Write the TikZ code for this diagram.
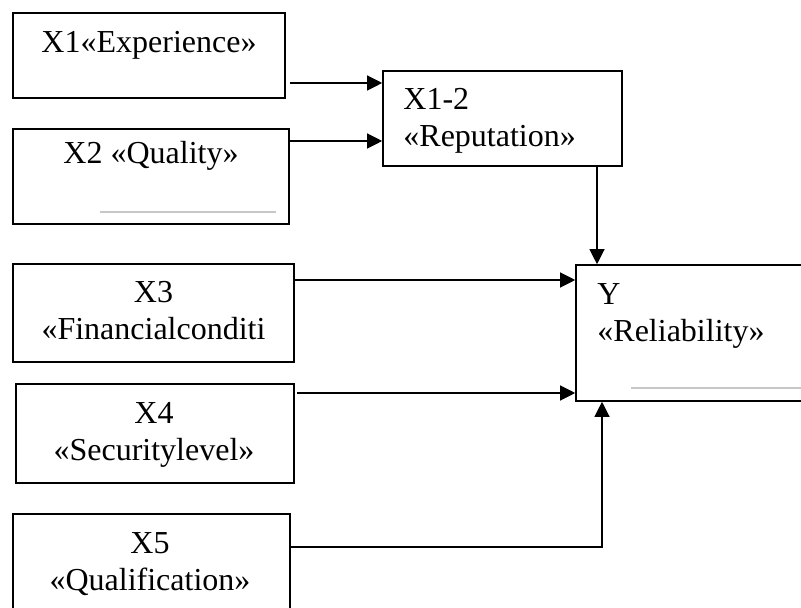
\documentclass[tikz,border=0pt]{standalone}
\usepackage{fontspec}
\setmainfont{Liberation Serif}
\usetikzlibrary{%
  arrows.meta,%
  calc%
}

\begin{document}
\begin{tikzpicture}[x=0.5pt,y=-0.5pt,
  box/.style={draw,line width=0.8pt,inner sep=0pt},
  lbl/.style={inner sep=0pt,font=\fontsize{16}{18.5}\selectfont,anchor=base},
  arr/.style={line width=0.6pt,-{Triangle[length=7.5pt,width=7.5pt]}},
  greyrule/.style={line width=1pt,color=black!22}]
\useasboundingbox (0,0) rectangle (801,608);
\clip (0,0) rectangle (801,608);

% boxes
\node[box,minimum width=136pt,minimum height=42.5pt] (x1) at (149,55.5) {};
\node[box,minimum width=138pt,minimum height=47.5pt] (x2) at (151,176.5) {};
\node[box,minimum width=119.5pt,minimum height=47.5pt] (x12) at (502.5,118.5) {};
\node[box,minimum width=140.5pt,minimum height=49pt] (x3) at (153.5,313) {};
\node[box,minimum width=139pt,minimum height=49.5pt] (x4) at (155,433.5) {};
\node[box,minimum width=138.5pt,minimum height=53pt] (x5) at (151.5,567) {};
\node[box,minimum width=117pt,minimum height=68pt] (y) at (693,333) {};

% texts (base = last line)
\node[lbl] (x1t) at (149,53) {X1«Experience»};
\node[lbl] (x2t) at (151,164) {X2 «Quality»};
\node[lbl,align=left,anchor=base west] (x12t) at (403,147) {X1-2\\«Reputation»};
\node[lbl,align=center] (x3t) at (153.5,340) {X3\\«Financialconditi};
\node[lbl,align=center] (x4t) at (154,460) {X4\\«Securitylevel»};
\node[lbl,align=center] (x5t) at (150,590) {X5\\«Qualification»};
\node[lbl,align=left,anchor=base west] (yt) at (597,342) {Y\\«Reliability»};

\draw[greyrule] (100,212) -- (276,212);
\draw[greyrule] (631,388) -- (801,388);

% connectors
\coordinate (s1) at (290,83);
\draw[arr] (s1) -- (s1 -| x12.west);
\coordinate (s2) at (289,141);
\draw[arr] (s2) -- (s2 -| x12.west);
\coordinate (d12) at (597,0);
\draw[arr] (x12.south -| d12) -- (y.north -| d12);
\coordinate (s3) at (295,280);
\draw[arr] (s3) -- (s3 -| y.west);
\coordinate (s4) at (297,393);
\draw[arr] (s4) -- (s4 -| y.west);
\coordinate (s5) at (291,547);
\coordinate (u5) at (602,0);
\draw[arr] (s5) -| (y.south -| u5);
\end{tikzpicture}
\end{document}
